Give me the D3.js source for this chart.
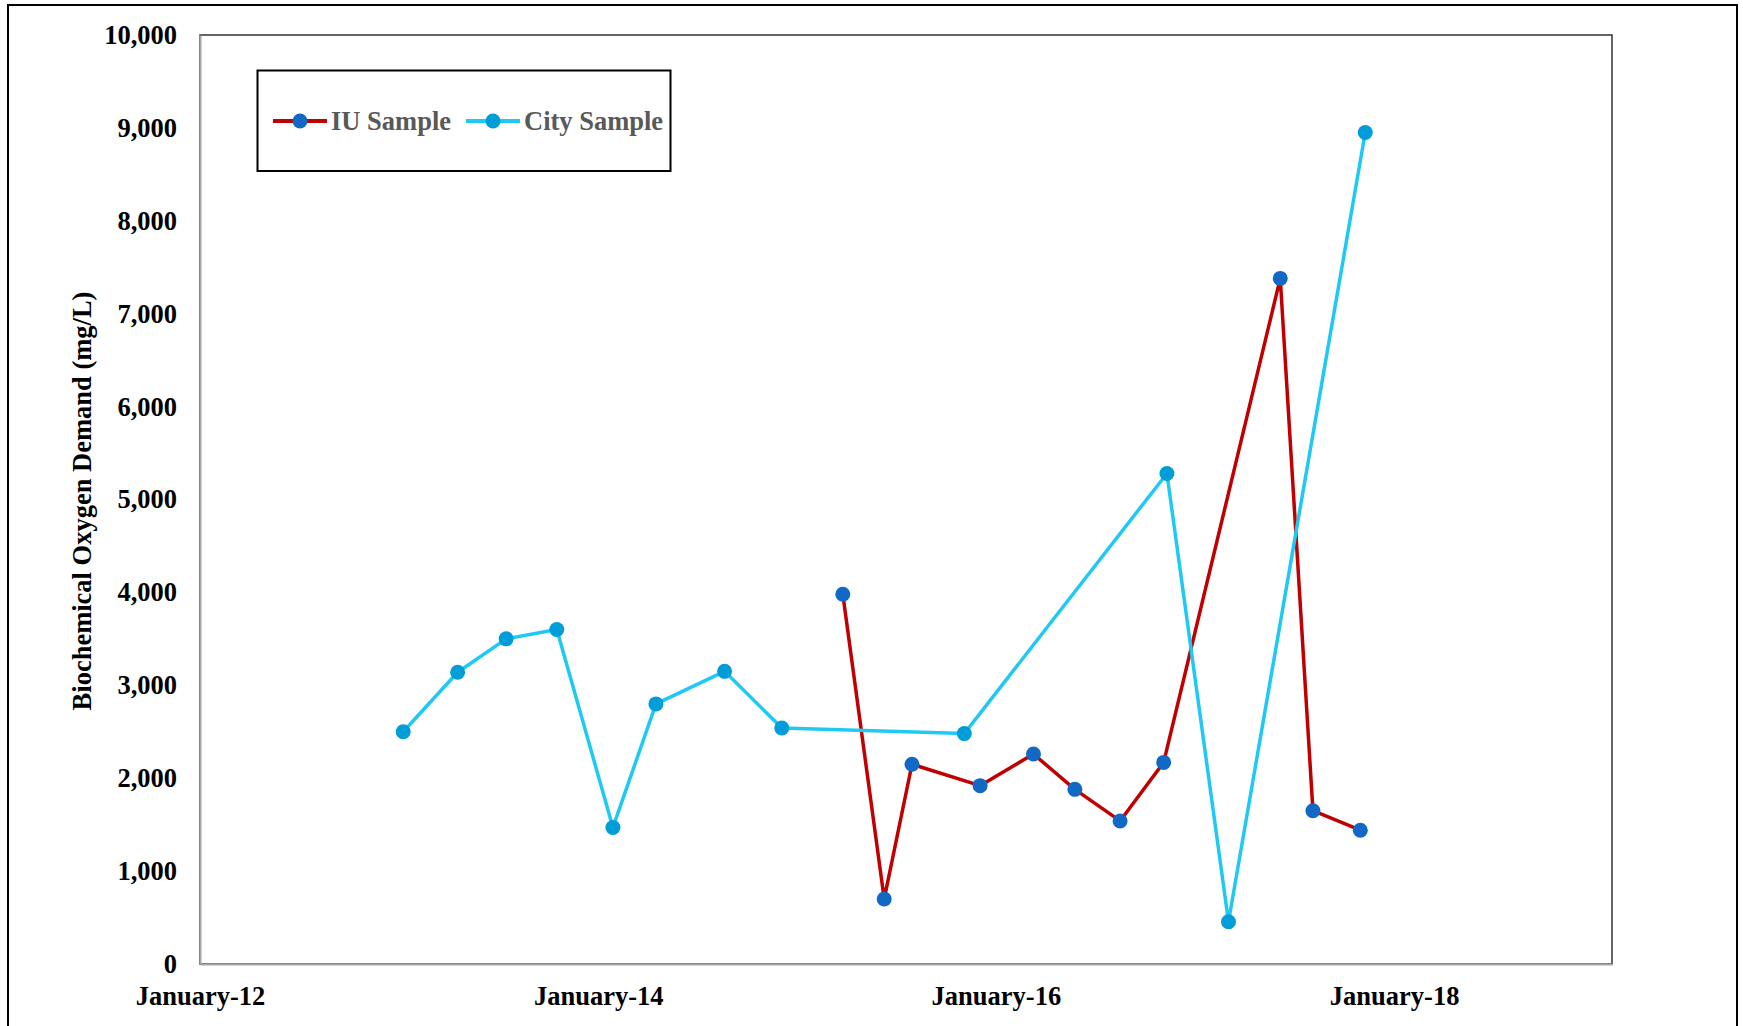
<!DOCTYPE html>
<html>
<head>
<meta charset="utf-8">
<script src="https://cdn.jsdelivr.net/npm/d3@7"></script>
<style>
    body { margin: 0; background: #fff; }
    text { font-family: "Liberation Serif", "Times New Roman", serif; font-weight: bold; }
</style>
</head>
<body>
<div class="B"></div>
<script>
var iuDates = ['2015-03-26', '2015-06-10', '2015-07-31', '2015-12-03', '2016-03-10', '2016-05-25',
    '2016-08-16', '2016-11-04', '2017-06-06', '2017-08-05', '2017-10-31'];
var iuValues = [3980, 700, 2150, 1920, 2260, 1880, 1540, 2170, 7380, 1650, 1440];

var cityDates = ['2013-01-08', '2013-04-18', '2013-07-16', '2013-10-17', '2014-01-28', '2014-04-17',
    '2014-08-21', '2014-12-04', '2015-11-04', '2016-11-10', '2017-03-03', '2017-11-09'];
var cityValues = [2500, 3140, 3500, 3600, 1470, 2800, 3150, 2540, 2480, 5280, 455, 8950];

var xTickDates = ['2012-01-01', '2014-01-01', '2016-01-01', '2018-01-01'];
var xTickLabels = ['January-12', 'January-14', 'January-16', 'January-18'];
var yTicks = [0, 1000, 2000, 3000, 4000, 5000, 6000, 7000, 8000, 9000, 10000];
var seriesNames = ['IU Sample', 'City Sample'];

var width = 1743, height = 1026;
var plot = {left: 200, top: 35, right: 1612, bottom: 964};
var parse = d3.timeParse('%Y-%m-%d');

var svg = d3.select('.B').append('svg')
    .attr('width', width)
    .attr('height', height);

// outer frame
svg.append('rect')
    .attr('x', 8).attr('y', 5)
    .attr('width', 1729).attr('height', 1040)
    .style('fill', 'none').style('stroke', '#000').style('stroke-width', 2);

var x = d3.scaleTime()
    .domain([parse('2012-01-01'), parse('2019-02-05')])
    .range([plot.left, plot.right]);

var y = d3.scaleLinear()
    .domain([0, 10000])
    .range([plot.bottom, plot.top]);

// plot area border
svg.append('rect')
    .attr('x', plot.left).attr('y', plot.top)
    .attr('width', plot.right - plot.left).attr('height', plot.bottom - plot.top)
    .style('fill', 'none').style('stroke', '#333').style('stroke-width', 1.5);

// y axis
var yAxis = svg.append('g')
    .attr('transform', 'translate(' + plot.left + ',0)')
    .call(d3.axisLeft(y).tickValues(yTicks).tickFormat(d3.format(',')).tickSize(0).tickPadding(23));
yAxis.select('.domain').style('stroke', '#a6a6a6').style('stroke-width', 2);
yAxis.selectAll('text')
    .style('font-family', '"Liberation Serif", serif')
    .style('font-size', '26.5px').style('font-weight', 'bold').style('fill', '#000');

// x axis
var xAxis = svg.append('g')
    .attr('transform', 'translate(0,' + plot.bottom + ')')
    .call(d3.axisBottom(x).tickValues(xTickDates.map(parse))
        .tickFormat(function (d, i) { return xTickLabels[i]; })
        .tickSize(0).tickPadding(22));
xAxis.select('.domain').style('stroke', '#a6a6a6').style('stroke-width', 2);
xAxis.selectAll('text')
    .style('font-family', '"Liberation Serif", serif')
    .style('font-size', '26.5px').style('font-weight', 'bold').style('fill', '#000');

// y title
svg.append('text')
    .text('Biochemical Oxygen Demand (mg/L)')
    .attr('transform', 'translate(91,501) rotate(-90)')
    .attr('text-anchor', 'middle')
    .style('font-size', '26.5px').style('fill', '#000');

var line = d3.line()
    .x(function (d) { return x(d.date); })
    .y(function (d) { return y(d.value); });

var series = [
    {name: seriesNames[0], line: '#c00000', marker: '#1169c5',
        data: iuDates.map(function (d, i) { return {date: parse(d), value: iuValues[i]}; })},
    {name: seriesNames[1], line: '#20c9f4', marker: '#009dd8',
        data: cityDates.map(function (d, i) { return {date: parse(d), value: cityValues[i]}; })}
];

series.forEach(function (s) {
    var g = svg.append('g');
    g.append('path')
        .attr('d', line(s.data))
        .style('fill', 'none').style('stroke', s.line).style('stroke-width', 3.5)
        .style('stroke-linejoin', 'round');
    g.selectAll('circle')
        .data(s.data)
        .enter()
        .append('circle')
        .attr('cx', function (d) { return x(d.date); })
        .attr('cy', function (d) { return y(d.value); })
        .attr('r', 7.5)
        .style('fill', s.marker);
});

// legend
var legend = svg.append('g');
legend.append('rect')
    .attr('x', 257.5).attr('y', 70.5).attr('width', 413).attr('height', 100.5)
    .style('fill', '#fff').style('stroke', '#000').style('stroke-width', 2);

var legendX = [273, 466];
series.forEach(function (s, i) {
    var lx = legendX[i];
    legend.append('line')
        .attr('x1', lx).attr('x2', lx + 54).attr('y1', 121).attr('y2', 121)
        .style('stroke', s.line).style('stroke-width', 4);
    legend.append('circle')
        .attr('cx', lx + 27).attr('cy', 121).attr('r', 7.5)
        .style('fill', s.marker);
    legend.append('text')
        .text(s.name)
        .attr('x', lx + 58).attr('y', 130)
        .style('font-size', '26.5px').style('fill', '#595959');
});
</script>
</body>
</html>
